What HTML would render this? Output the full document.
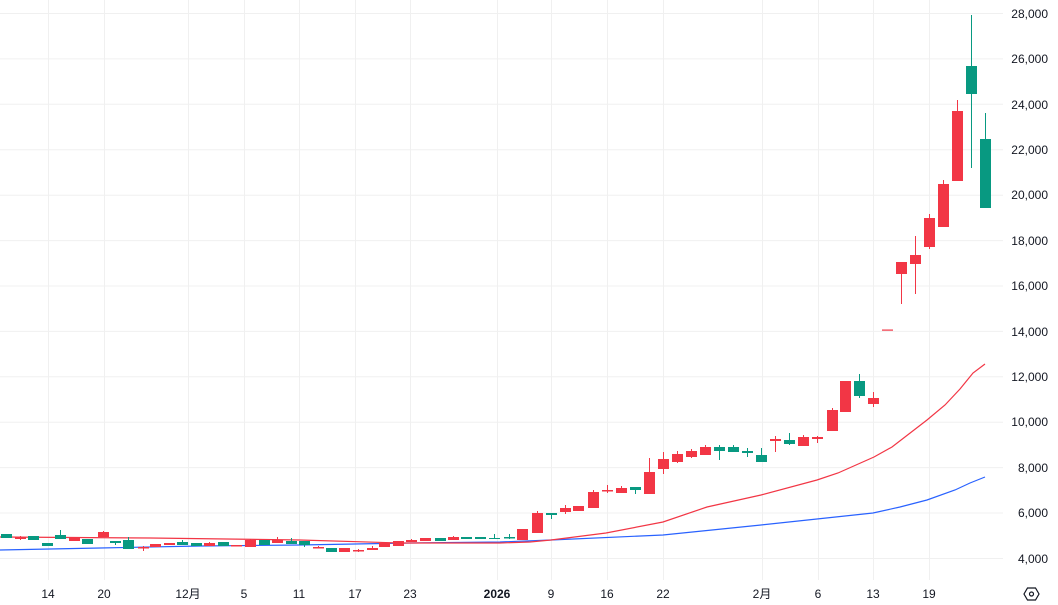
<!DOCTYPE html>
<html><head><meta charset="utf-8"><style>
html,body{margin:0;padding:0;background:#fff;}
svg{display:block;}
text{font-family:"Liberation Sans","Noto Sans CJK JP",sans-serif;font-size:12px;fill:#131722;}
</style></head><body>
<svg width="1058" height="605" viewBox="0 0 1058 605" xmlns="http://www.w3.org/2000/svg">
<g stroke="#f0f0f0" stroke-width="1">
<line x1="0" y1="13.5" x2="1003" y2="13.5"/><line x1="0" y1="58.9" x2="1003" y2="58.9"/><line x1="0" y1="104.3" x2="1003" y2="104.3"/><line x1="0" y1="149.7" x2="1003" y2="149.7"/><line x1="0" y1="195.2" x2="1003" y2="195.2"/><line x1="0" y1="240.6" x2="1003" y2="240.6"/><line x1="0" y1="286" x2="1003" y2="286"/><line x1="0" y1="331.4" x2="1003" y2="331.4"/><line x1="0" y1="376.8" x2="1003" y2="376.8"/><line x1="0" y1="422.2" x2="1003" y2="422.2"/><line x1="0" y1="467.6" x2="1003" y2="467.6"/><line x1="0" y1="513" x2="1003" y2="513"/><line x1="0" y1="558.5" x2="1003" y2="558.5"/>
<line x1="48.5" y1="0" x2="48.5" y2="580"/><line x1="104.5" y1="0" x2="104.5" y2="580"/><line x1="188.5" y1="0" x2="188.5" y2="580"/><line x1="244.5" y1="0" x2="244.5" y2="580"/><line x1="299.5" y1="0" x2="299.5" y2="580"/><line x1="355.5" y1="0" x2="355.5" y2="580"/><line x1="410.5" y1="0" x2="410.5" y2="580"/><line x1="497.5" y1="0" x2="497.5" y2="580"/><line x1="551.5" y1="0" x2="551.5" y2="580"/><line x1="607.5" y1="0" x2="607.5" y2="580"/><line x1="663.5" y1="0" x2="663.5" y2="580"/><line x1="762.5" y1="0" x2="762.5" y2="580"/><line x1="818.5" y1="0" x2="818.5" y2="580"/><line x1="873.5" y1="0" x2="873.5" y2="580"/><line x1="929.5" y1="0" x2="929.5" y2="580"/>
</g>
<polyline fill="none" stroke="#2962ff" stroke-width="1.2" points="0,550 100,548 200,546 300,545 410,543 500,542 551,540 663,535 761,525 873,513 900,507 927,500 955,490 970,483 985,477"/>
<polyline fill="none" stroke="#f23645" stroke-width="1.2" points="0,537 150,538 300,540 400,543 500,543 530,542 551,540 606,533 663,522 707,507 761,495 817,480 838,473 874,457 892,447 927,420 945,405 960,389 973,373 985,364"/>
<g fill="#089981" stroke="#089981">
<line x1="6.5" y1="534" x2="6.5" y2="538"/><rect x="1" y="534" width="11" height="4" stroke="none"/>
<line x1="33.5" y1="536" x2="33.5" y2="540"/><rect x="28" y="536" width="11" height="4" stroke="none"/>
<line x1="47.5" y1="543" x2="47.5" y2="546"/><rect x="42" y="543" width="11" height="3" stroke="none"/>
<line x1="60.5" y1="530" x2="60.5" y2="539"/><rect x="55" y="535" width="11" height="4" stroke="none"/>
<line x1="87.5" y1="539" x2="87.5" y2="544"/><rect x="82" y="539" width="11" height="5" stroke="none"/>
<line x1="115.5" y1="541" x2="115.5" y2="545"/><rect x="110" y="541" width="11" height="2" stroke="none"/>
<line x1="128.5" y1="537" x2="128.5" y2="549"/><rect x="123" y="540" width="11" height="9" stroke="none"/>
<line x1="182.5" y1="540" x2="182.5" y2="545"/><rect x="177" y="542" width="11" height="3" stroke="none"/>
<line x1="196.5" y1="543" x2="196.5" y2="546"/><rect x="191" y="543" width="11" height="3" stroke="none"/>
<line x1="223.5" y1="542" x2="223.5" y2="546"/><rect x="218" y="542" width="11" height="4" stroke="none"/>
<line x1="264.5" y1="540" x2="264.5" y2="545"/><rect x="259" y="540" width="11" height="5" stroke="none"/>
<line x1="291.5" y1="538" x2="291.5" y2="544"/><rect x="286" y="541" width="11" height="3" stroke="none"/>
<line x1="304.5" y1="541" x2="304.5" y2="547"/><rect x="299" y="541" width="11" height="4" stroke="none"/>
<line x1="331.5" y1="548" x2="331.5" y2="552"/><rect x="326" y="548" width="11" height="4" stroke="none"/>
<line x1="440.5" y1="538" x2="440.5" y2="541"/><rect x="435" y="538" width="11" height="3" stroke="none"/>
<line x1="466.5" y1="537" x2="466.5" y2="538"/><rect x="461" y="537" width="11" height="2" stroke="none"/>
<line x1="480.5" y1="537" x2="480.5" y2="539"/><rect x="475" y="537" width="11" height="2" stroke="none"/>
<line x1="494.5" y1="534" x2="494.5" y2="539"/><rect x="489" y="538" width="11" height="1" stroke="none"/>
<line x1="509.5" y1="534" x2="509.5" y2="539"/><rect x="504" y="537" width="11" height="1.5" stroke="none"/>
<line x1="551.5" y1="513" x2="551.5" y2="519"/><rect x="546" y="513" width="11" height="2" stroke="none"/>
<line x1="635.5" y1="487" x2="635.5" y2="494"/><rect x="630" y="487" width="11" height="3" stroke="none"/>
<line x1="719.5" y1="445" x2="719.5" y2="460"/><rect x="714" y="447" width="11" height="4" stroke="none"/>
<line x1="733.5" y1="445" x2="733.5" y2="452"/><rect x="728" y="447" width="11" height="5" stroke="none"/>
<line x1="747.5" y1="448" x2="747.5" y2="457"/><rect x="742" y="451" width="11" height="2" stroke="none"/>
<line x1="761.5" y1="448" x2="761.5" y2="462"/><rect x="756" y="455" width="11" height="7" stroke="none"/>
<line x1="789.5" y1="433" x2="789.5" y2="445"/><rect x="784" y="440" width="11" height="4" stroke="none"/>
<line x1="859.5" y1="374" x2="859.5" y2="398"/><rect x="854" y="381" width="11" height="15" stroke="none"/>
<line x1="971.5" y1="15" x2="971.5" y2="168"/><rect x="966" y="66" width="11" height="28" stroke="none"/>
<line x1="985.5" y1="113" x2="985.5" y2="208"/><rect x="980" y="139" width="11" height="69" stroke="none"/>
</g>
<g fill="#f23645" stroke="#f23645">
<line x1="20.5" y1="536" x2="20.5" y2="540"/><rect x="15" y="537" width="11" height="2" stroke="none"/>
<line x1="74.5" y1="538" x2="74.5" y2="541"/><rect x="69" y="538" width="11" height="3" stroke="none"/>
<line x1="103.5" y1="531" x2="103.5" y2="537"/><rect x="98" y="532" width="11" height="5" stroke="none"/>
<line x1="143.5" y1="546" x2="143.5" y2="551"/><rect x="138" y="547" width="11" height="1.5" stroke="none"/>
<line x1="155.5" y1="544" x2="155.5" y2="547"/><rect x="150" y="544" width="11" height="3" stroke="none"/>
<line x1="169.5" y1="543" x2="169.5" y2="545"/><rect x="164" y="543" width="11" height="2" stroke="none"/>
<line x1="209.5" y1="542" x2="209.5" y2="546"/><rect x="204" y="543" width="11" height="3" stroke="none"/>
<line x1="236.5" y1="545" x2="236.5" y2="546"/><rect x="231" y="545" width="11" height="1.5" stroke="none"/>
<line x1="250.5" y1="539" x2="250.5" y2="547"/><rect x="245" y="540" width="11" height="7" stroke="none"/>
<line x1="277.5" y1="537" x2="277.5" y2="543"/><rect x="272" y="540" width="11" height="3" stroke="none"/>
<line x1="318.5" y1="546" x2="318.5" y2="548"/><rect x="313" y="547" width="11" height="1.5" stroke="none"/>
<line x1="344.5" y1="548" x2="344.5" y2="552"/><rect x="339" y="548" width="11" height="4" stroke="none"/>
<line x1="358.5" y1="549" x2="358.5" y2="552"/><rect x="353" y="550" width="11" height="1.5" stroke="none"/>
<line x1="372.5" y1="546" x2="372.5" y2="550"/><rect x="367" y="548" width="11" height="2" stroke="none"/>
<line x1="384.5" y1="543" x2="384.5" y2="547"/><rect x="379" y="543" width="11" height="4" stroke="none"/>
<line x1="398.5" y1="541" x2="398.5" y2="546"/><rect x="393" y="541" width="11" height="5" stroke="none"/>
<line x1="411.5" y1="539" x2="411.5" y2="542"/><rect x="406" y="540" width="11" height="2" stroke="none"/>
<line x1="425.5" y1="538" x2="425.5" y2="541"/><rect x="420" y="538" width="11" height="3" stroke="none"/>
<line x1="453.5" y1="536" x2="453.5" y2="540"/><rect x="448" y="537" width="11" height="3" stroke="none"/>
<line x1="522.5" y1="529" x2="522.5" y2="540"/><rect x="517" y="529" width="11" height="11" stroke="none"/>
<line x1="537.5" y1="511" x2="537.5" y2="533"/><rect x="532" y="513" width="11" height="20" stroke="none"/>
<line x1="565.5" y1="505" x2="565.5" y2="514"/><rect x="560" y="508" width="11" height="4" stroke="none"/>
<line x1="578.5" y1="506" x2="578.5" y2="511"/><rect x="573" y="506" width="11" height="5" stroke="none"/>
<line x1="593.5" y1="490" x2="593.5" y2="508"/><rect x="588" y="492" width="11" height="16" stroke="none"/>
<line x1="607.5" y1="485" x2="607.5" y2="493"/><rect x="602" y="490" width="11" height="1.5" stroke="none"/>
<line x1="621.5" y1="486" x2="621.5" y2="493"/><rect x="616" y="488" width="11" height="5" stroke="none"/>
<line x1="649.5" y1="458" x2="649.5" y2="494"/><rect x="644" y="472" width="11" height="22" stroke="none"/>
<line x1="663.5" y1="452" x2="663.5" y2="474"/><rect x="658" y="459" width="11" height="10" stroke="none"/>
<line x1="677.5" y1="451" x2="677.5" y2="463"/><rect x="672" y="454" width="11" height="8" stroke="none"/>
<line x1="691.5" y1="449" x2="691.5" y2="458"/><rect x="686" y="451" width="11" height="6" stroke="none"/>
<line x1="705.5" y1="445" x2="705.5" y2="455"/><rect x="700" y="447" width="11" height="8" stroke="none"/>
<line x1="775.5" y1="436" x2="775.5" y2="452"/><rect x="770" y="439" width="11" height="2" stroke="none"/>
<line x1="803.5" y1="435" x2="803.5" y2="446"/><rect x="798" y="437" width="11" height="9" stroke="none"/>
<line x1="817.5" y1="436" x2="817.5" y2="443"/><rect x="812" y="437" width="11" height="2" stroke="none"/>
<line x1="832.5" y1="408" x2="832.5" y2="431"/><rect x="827" y="410" width="11" height="21" stroke="none"/>
<line x1="845.5" y1="381" x2="845.5" y2="412"/><rect x="840" y="381" width="11" height="31" stroke="none"/>
<line x1="873.5" y1="392" x2="873.5" y2="407"/><rect x="868" y="398" width="11" height="6" stroke="none"/>
<rect x="882" y="329.5" width="11" height="1.2" stroke="none"/>
<line x1="901.5" y1="262" x2="901.5" y2="304"/><rect x="896" y="262" width="11" height="12" stroke="none"/>
<line x1="915.5" y1="236" x2="915.5" y2="294"/><rect x="910" y="255" width="11" height="9" stroke="none"/>
<line x1="929.5" y1="214" x2="929.5" y2="249"/><rect x="924" y="218" width="11" height="29" stroke="none"/>
<line x1="943.5" y1="180" x2="943.5" y2="227"/><rect x="938" y="184" width="11" height="43" stroke="none"/>
<line x1="957.5" y1="100" x2="957.5" y2="181"/><rect x="952" y="111" width="11" height="70" stroke="none"/>
</g>
<g text-anchor="end">
<text x="1048" y="18">28,000</text><text x="1048" y="63">26,000</text><text x="1048" y="109">24,000</text><text x="1048" y="154">22,000</text><text x="1048" y="199">20,000</text><text x="1048" y="245">18,000</text><text x="1048" y="290">16,000</text><text x="1048" y="336">14,000</text><text x="1048" y="381">12,000</text><text x="1048" y="426">10,000</text><text x="1048" y="472">8,000</text><text x="1048" y="517">6,000</text><text x="1048" y="563">4,000</text>
</g>
<g text-anchor="middle">
<text x="48" y="598">14</text><text x="104" y="598">20</text><text x="188" y="598">12月</text><text x="244" y="598">5</text><text x="299" y="598">11</text><text x="355" y="598">17</text><text x="410" y="598">23</text><text x="497" y="598" font-weight="bold">2026</text><text x="551" y="598">9</text><text x="607" y="598">16</text><text x="663" y="598">22</text><text x="762" y="598">2月</text><text x="818" y="598">6</text><text x="873" y="598">13</text><text x="929" y="598">19</text>
</g>
<polygon points="1024,594 1027.5,588 1035.5,588 1039,594 1035.5,600 1027.5,600" fill="none" stroke="#131722" stroke-width="1.2"/>
<circle cx="1031.5" cy="594" r="2" fill="none" stroke="#131722" stroke-width="1.2"/>
</svg>
</body></html>
